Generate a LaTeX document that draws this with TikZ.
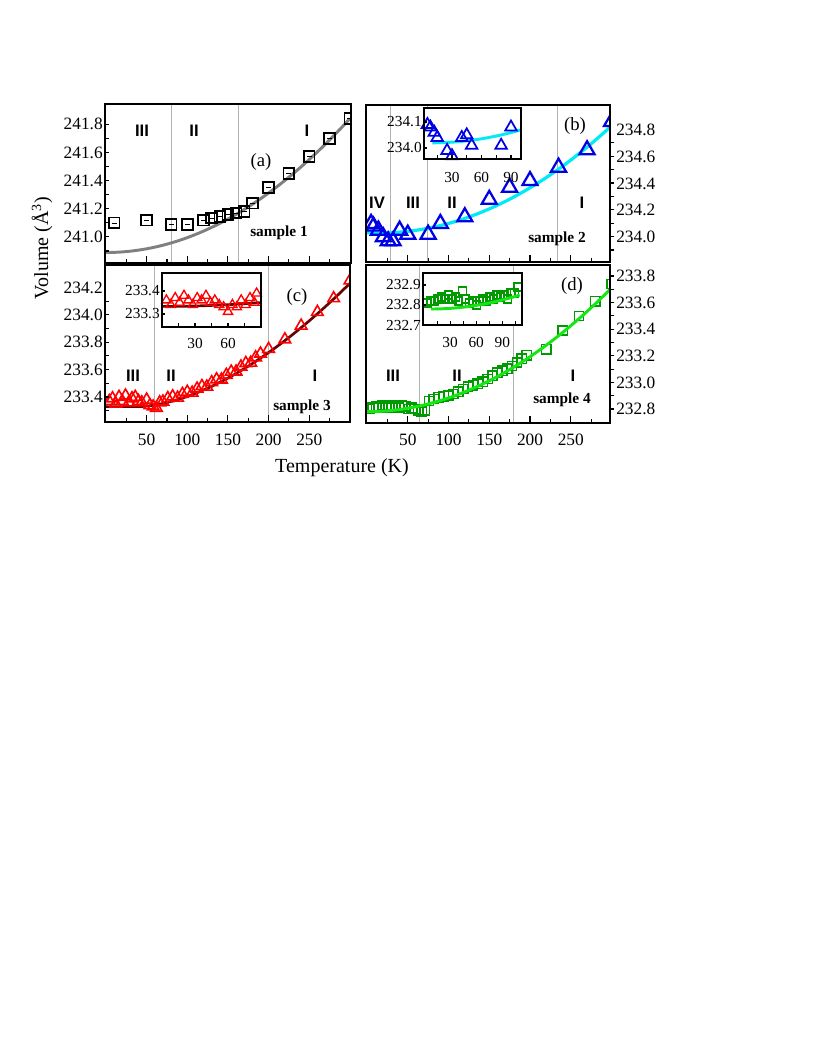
\documentclass[tikz,border=0pt]{standalone}
\usepackage{fontspec}
\usetikzlibrary{shapes.geometric}
\setmainfont{Liberation Serif}
\newfontfamily\romfont{Liberation Sans}
\definecolor{cyanc}{RGB}{0,235,245}
\definecolor{limec}{RGB}{20,230,20}
\begin{document}
\begin{tikzpicture}[x=0.75pt,y=-0.75pt,
  frame/.style={line width=1.6pt},
  vline/.style={gray!60,line width=0.5pt},
  tk/.style={line width=0.8pt},
  lab/.style={font=\fontsize{13}{13}\selectfont,inner sep=0pt},
  ilab/.style={font=\fontsize{11.5}{12}\selectfont,inner sep=0pt},
  rom/.style={font=\romfont\bfseries\fontsize{12.5}{13}\selectfont,inner sep=0pt},
  smp/.style={font=\bfseries\fontsize{11.5}{12}\selectfont,inner sep=0pt},
  plab/.style={font=\fontsize{14}{14}\selectfont,inner sep=0pt},
  sqA/.style={draw=black,line width=1.3pt,minimum size=8pt,inner sep=0pt,rectangle},
  sqD/.style={draw=black!40!green,line width=1.1pt,minimum size=7pt,inner sep=0pt,rectangle},
  trB/.style={draw=blue!90!black,line width=1.7pt,regular polygon,regular polygon sides=3,minimum size=13pt,inner sep=0pt},
  trC/.style={draw=red,line width=1.2pt,regular polygon,regular polygon sides=3,minimum size=10pt,inner sep=0pt},
  trCi/.style={draw=red,line width=1pt,regular polygon,regular polygon sides=3,minimum size=8pt,inner sep=0pt},
  trBi/.style={draw=blue!90!black,line width=1.3pt,regular polygon,regular polygon sides=3,minimum size=10pt,inner sep=0pt},
  sqDi/.style={draw=black!40!green,line width=1pt,minimum size=6pt,inner sep=0pt,rectangle}]
\useasboundingbox (0,0) rectangle (814,1053);
\fill[white] (0,0) rectangle (814,1053);

% ---------- panel (a)
\draw[vline] (171,104)--(171,263) (238,104)--(238,263);
\begin{scope}
\clip (105,104) rectangle (351,263);
\draw[gray,line width=2.2pt,domain=0:300,samples=60] plot ({106+0.813*\x},{237-141*(-0.11+0.95*(\x/300)*(\x/300))});
\foreach \t/\v in {10/241.10,50/241.12,80/241.09,100/241.09,120/241.12,130/241.135,140/241.145,150/241.16,160/241.17,170/241.18,180/241.24,200/241.35,225/241.45,250/241.57,275/241.70,300/241.84}{
  \node[sqA] at ({106+0.813*\t},{237-141*(\v-241)}) {};
  \draw[line width=0.6pt] ({106+0.813*\t-2.5},{237-141*(\v-241)})--({106+0.813*\t+2.5},{237-141*(\v-241)});
}
\end{scope}
\draw[frame] (105,104) rectangle (351,263);
\foreach \t in {25,50,...,275}{\draw[tk] ({106+0.813*\t},263)--({106+0.813*\t},259);}
\foreach \t in {50,100,...,250}{\draw[tk] ({106+0.813*\t},263)--({106+0.813*\t},256);}
\foreach \v in {0,1,...,9}{\draw[tk] (105,{251-14.1*\v})--(109,{251-14.1*\v});}
\foreach \v/\l in {0/241.0,2/241.2,4/241.4,6/241.6,8/241.8}{\node[lab,anchor=east] at (103,{237-14.1*\v}) {\l};}
\node[rom] at (142,131) {III};
\node[rom] at (194,131) {II};
\node[rom] at (307,131) {I};
\node[plab] at (261,162) {(a)};
\node[smp] at (279,233) {sample 1};

% ---------- panel (b)
\draw[vline] (390,105)--(390,262) (427,105)--(427,262) (557,105)--(557,262);
\begin{scope}
\clip (366,105) rectangle (610,262);
\draw[cyanc,line width=2.4pt,domain=0:300,samples=60] plot ({367+0.815*\x},{237-134*(0.03+0.80*((\x-15)/285)*((\x-15)/285))});
\foreach \t/\v in {5/234.10,8/234.08,14/234.05,20/234.00,26/233.97,32/233.97,40/234.05,50/234.02,75/234.02,90/234.10,120/234.15,150/234.28,175/234.37,200/234.42,235/234.52,270/234.65,300/234.86}{
  \node[trB] at ({367+0.815*\t},{237-134*(\v-234)}) {};
}
\end{scope}
\fill[white] (424,108) rectangle (521,159);
\draw[cyanc,line width=2.2pt,domain=10:100,samples=30] plot ({422.5+0.983*\x},{148-260*(0.02+0.05*((\x-10)/90)*((\x-10)/90))});
\foreach \t/\v in {5/234.09,8/234.08,12/234.06,15/234.04,25/233.99,30/233.97,40/234.04,45/234.05,50/234.01,80/234.01,90/234.08}{
  \node[trBi] at ({422.5+0.983*\t},{148-260*(\v-234)}) {};
}
\draw[line width=1.3pt] (424,108) rectangle (521,159);
\foreach \t in {15,30,...,90}{\draw[tk] ({422.5+0.983*\t},159)--({422.5+0.983*\t},155);}
\foreach \v in {0,1}{\draw[tk] (424,{148-26*\v})--(427,{148-26*\v});}
\node[ilab,anchor=east] at (422,122) {234.1};
\node[ilab,anchor=east] at (422,148) {234.0};
\foreach \t in {30,60,90}{\node[ilab] at ({422.5+0.983*\t},177) {\t};}
\draw[frame] (366,105) rectangle (610,262);
\foreach \t in {25,50,...,275}{\draw[tk] ({367+0.815*\t},262)--({367+0.815*\t},258);}
\foreach \t in {50,100,...,250}{\draw[tk] ({367+0.815*\t},262)--({367+0.815*\t},255);}
\foreach \v in {0,1,...,8}{\draw[tk] (610,{250-13.4*\v})--(614,{250-13.4*\v});}
\foreach \v/\l in {0/234.0,2/234.2,4/234.4,6/234.6,8/234.8}{\node[lab,anchor=west] at (616,{237-13.4*\v}) {\l};}
\node[rom] at (377,203) {IV};
\node[rom] at (413,203) {III};
\node[rom] at (452,203) {II};
\node[rom] at (582,203) {I};
\node[plab] at (575,126) {(b)};
\node[smp] at (557,239) {sample 2};

% ---------- panel (c)
\draw[vline] (154,265)--(154,422) (268,265)--(268,422);
\begin{scope}
\clip (105,265) rectangle (350,422);
\draw[black!30!red!60!black,line width=2pt,domain=0:300,samples=80] plot ({106+0.813*\x},{397-137*(-0.07+0.9*((max(\x,40.5)-40)/260)^1.7)});
\foreach \t/\v in {4/233.37,8/233.39,12/233.35,16/233.40,20/233.37,24/233.41,28/233.36,32/233.39,36/233.40,40/233.37,44/233.36,50/233.38,54/233.34,58/233.33,62/233.32,66/233.36}{
  \node[trC] at ({106+0.813*\t},{397-137*(\v-233.4)}) {};
}
\foreach \t in {70,76,...,190}{
  \pgfmathsetmacro\v{0.9*((\t-40)/260)^1.7-0.07+0.012*sin(\t*40)+0.025}
  \node[trC] at ({106+0.813*\t},{397-137*\v}) {};
}
\foreach \t/\v in {200/233.75,220/233.82,240/233.92,260/234.02,280/234.12,300/234.25}{
  \node[trC] at ({106+0.813*\t},{397-137*(\v-233.4)}) {};
}
\end{scope}
\fill[white] (162,273) rectangle (261,327);
\draw[black!30!red!60!black,line width=2pt,domain=0:90,samples=30] plot ({162+1.1*\x},{314-230*(0.033+0.017*(\x/90)*(\x/90))});
\foreach \t/\v in {4/233.36,8/233.34,12/233.37,16/233.35,20/233.38,24/233.36,28/233.34,32/233.37,36/233.36,40/233.38,44/233.35,48/233.36,52/233.34,56/233.33,60/233.31,64/233.34,68/233.33,72/233.36,76/233.34,80/233.37,84/233.35,86/233.39}{
  \node[trCi] at ({162+1.1*\t},{314-230*(\v-233.3)}) {};
}
\draw[line width=1.3pt] (162,273) rectangle (261,327);
\foreach \t in {15,30,...,75}{\draw[tk] ({162+1.1*\t},327)--({162+1.1*\t},323);}
\foreach \v in {0,1}{\draw[tk] (162,{314-23*\v})--(165,{314-23*\v});}
\node[ilab,anchor=east] at (160,291) {233.4};
\node[ilab,anchor=east] at (160,314) {233.3};
\foreach \t in {30,60}{\node[ilab] at ({162+1.1*\t},343) {\t};}
\draw[frame] (105,265) rectangle (350,422);
\foreach \t in {25,50,...,275}{\draw[tk] ({106+0.813*\t},422)--({106+0.813*\t},418);}
\foreach \t in {50,100,...,250}{\draw[tk] ({106+0.813*\t},422)--({106+0.813*\t},415);}
\foreach \v in {0,1,...,8}{\draw[tk] (105,{410.7-13.7*\v})--(109,{410.7-13.7*\v});}
\foreach \v/\l in {1/233.4,3/233.6,5/233.8,7/234.0,9/234.2}{\node[lab,anchor=east] at (103,{410.7-13.7*\v}) {\l};}
\foreach \t in {50,100,...,250}{\node[lab] at ({106+0.813*\t},440) {\t};}
\node[rom] at (133,376) {III};
\node[rom] at (171,376) {II};
\node[rom] at (315,376) {I};
\node[plab] at (297,297) {(c)};
\node[smp] at (302,407) {sample 3};

% ---------- panel (d)
\draw[vline] (419,265)--(419,423) (513,265)--(513,423);
\begin{scope}
\clip (366,265) rectangle (610,423);
\foreach \t/\v in {3/232.80,7/232.81,11/232.82,15/232.81,19/232.83,23/232.82,27/232.81,31/232.83,35/232.82,39/232.81,43/232.83,47/232.82,51/232.80,55/232.81,59/232.80,63/232.79,67/232.78,71/232.79}{
  \node[sqD] at ({367+0.815*\t},{409-133*(\v-232.8)}) {};
}
\foreach \t in {76,82,...,200}{
  \pgfmathsetmacro\v{0.93*(\t/300)*(\t/300)-0.02+0.006*sin(\t*50)+0.022}
  \node[sqD] at ({367+0.815*\t},{409-133*\v}) {};
}
\foreach \t/\v in {220/233.25,240/233.39,260/233.50,280/233.61,300/233.74}{
  \node[sqD] at ({367+0.815*\t},{409-133*(\v-232.8)}) {};
}
\draw[limec,line width=2.2pt,domain=0:300,samples=60] plot ({367+0.815*\x},{409-133*(-0.02+0.93*(\x/300)*(\x/300))});
\end{scope}
\fill[white] (423,273) rectangle (522,325);
\foreach \t/\v in {4/232.81,8/232.82,12/232.82,16/232.83,20/232.84,24/232.83,28/232.85,32/232.83,36/232.84,40/232.82,44/232.87,48/232.83,52/232.81,56/232.82,60/232.80,64/232.82,68/232.83,72/232.82,76/232.84,80/232.83,84/232.85,88/232.84,92/232.85,96/232.83,100/232.86,104/232.86,108/232.89}{
  \node[sqDi] at ({424+0.87*\t},{305-200*(\v-232.8)}) {};
}
\draw[limec,line width=2.2pt,domain=8:110,samples=30] plot ({424+0.87*\x},{305-200*(-0.02+0.07*((\x-8)/102)*((\x-8)/102))});
\draw[line width=1.3pt] (423,273) rectangle (522,325);
\foreach \t in {15,30,...,105}{\draw[tk] ({424+0.87*\t},325)--({424+0.87*\t},321);}
\foreach \v in {0,1,2}{\draw[tk] (423,{325-20*\v})--(426,{325-20*\v});}
\node[ilab,anchor=east] at (421,285) {232.9};
\node[ilab,anchor=east] at (421,305) {232.8};
\node[ilab,anchor=east] at (421,326) {232.7};
\foreach \t in {30,60,90}{\node[ilab] at ({424+0.87*\t},342) {\t};}
\draw[frame] (366,265) rectangle (610,423);
\foreach \t in {25,50,...,275}{\draw[tk] ({367+0.815*\t},423)--({367+0.815*\t},419);}
\foreach \t in {50,100,...,250}{\draw[tk] ({367+0.815*\t},423)--({367+0.815*\t},416);}
\foreach \v in {0,1,...,10}{\draw[tk] (610,{409-13.3*\v})--(614,{409-13.3*\v});}
\foreach \v/\l in {0/232.8,2/233.0,4/233.2,6/233.4,8/233.6,10/233.8}{\node[lab,anchor=west] at (616,{409-13.3*\v}) {\l};}
\foreach \t in {50,100,...,250}{\node[lab] at ({367+0.815*\t},440) {\t};}
\node[rom] at (393,376) {III};
\node[rom] at (457,376) {II};
\node[rom] at (573,376) {I};
\node[plab] at (572,286) {(d)};
\node[smp] at (562,400) {sample 4};

% ---------- axis titles
\node[font=\fontsize{15}{15}\selectfont,rotate=90] (ylab) at (42,248) {Volume (Å\textsuperscript{3})};
\node[font=\fontsize{15}{15}\selectfont] (xlab) at (342,468) {Temperature (K)};
\end{tikzpicture}
\end{document}
